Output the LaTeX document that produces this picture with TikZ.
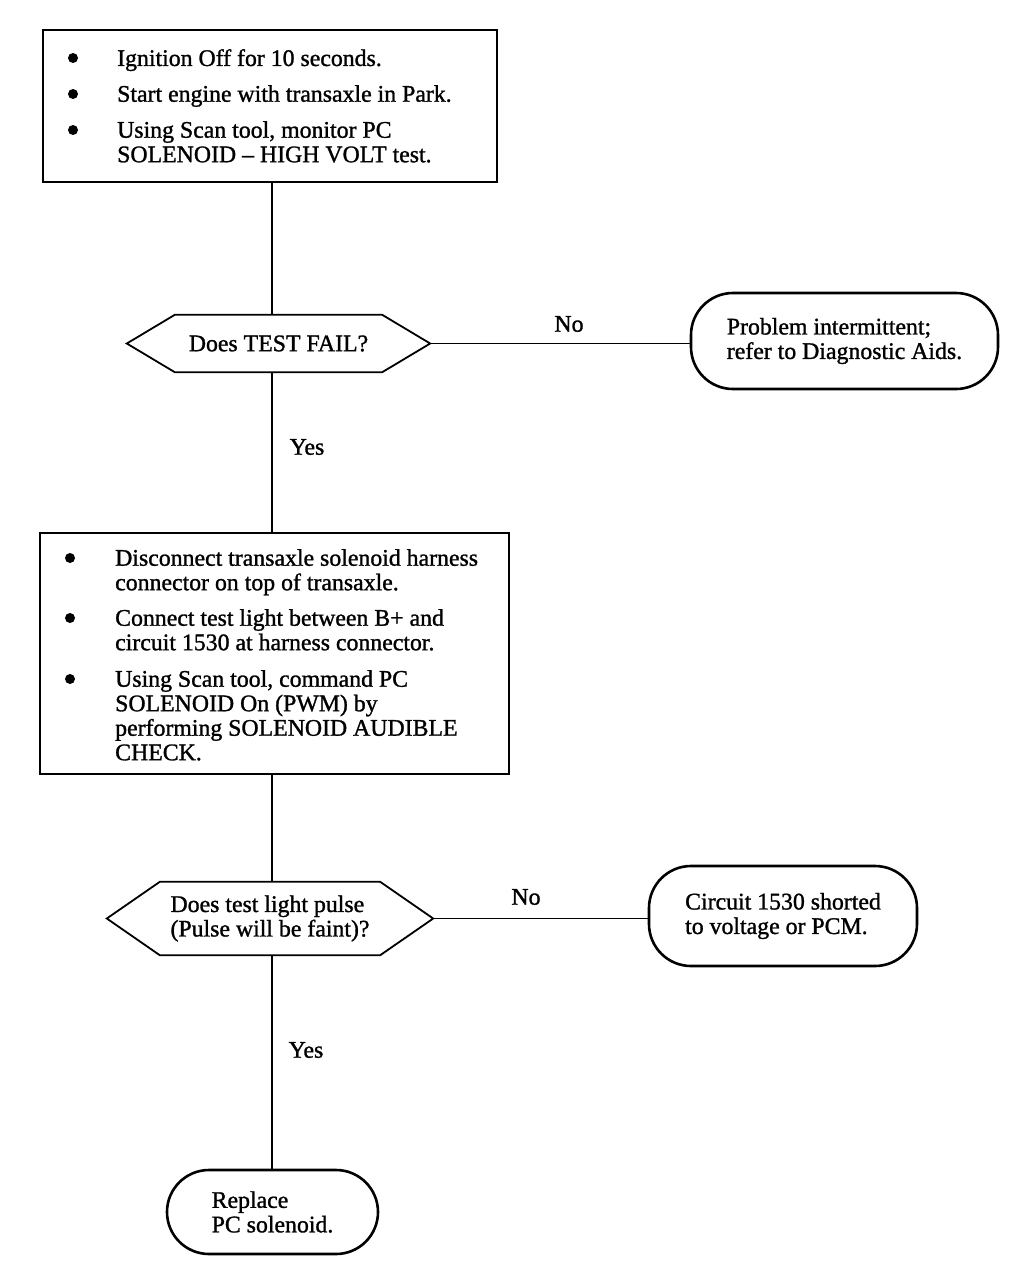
\documentclass[tikz,border=0pt]{standalone}
\usepackage{fontspec}
\setmainfont{Liberation Serif}[UprightFeatures={FakeBold=1.2}]
\begin{document}
\begin{tikzpicture}[x=1pt,y=-1pt,
  boxr/.style={draw, line width=2.6, inner sep=0},
  fnt/.style={font=\fontsize{23.8}{24.5}\selectfont},
  txt/.style={fnt, align=left, inner sep=0, anchor=north west},
  dot/.style={circle, fill, inner sep=0, minimum size=10},
  term/.style={draw, line width=2.6, rounded corners=42, inner sep=0, fnt, align=left},
  dec/.style={inner sep=0, fnt, align=left},
  hexa/.style={line width=1.8},
  conn/.style={line width=1.8},
  lbl/.style={fnt, inner sep=0}]
\useasboundingbox (0,0) rectangle (1024,1270);
\coordinate (sp) at (272,0);

% Box 1
\node[boxr, minimum width=454, minimum height=152] (b1) at (270,106) {};
\node[dot] (b1d1) at (73,58) {};
\node[dot] (b1d2) at (73,94) {};
\node[dot] (b1d3) at (73,130) {};
\node[txt] (b1t1) at (117,49) {Ignition Off for 10 seconds.};
\node[txt] (b1t2) at (117,85) {Start engine with transaxle in Park.};
\node[txt] (b1t3) at (117,121) {Using Scan tool, monitor PC\\SOLENOID -- HIGH VOLT test.};

% Decision 1
\node[dec, minimum width=303, minimum height=57] (d1) at (278.5,343.5) {Does TEST FAIL?};
\draw[hexa] (d1.west) -- ([xshift=48]d1.north west) -- ([xshift=-48]d1.north east)
  -- (d1.east) -- ([xshift=-48]d1.south east) -- ([xshift=48]d1.south west) -- cycle;

% Terminal 1
\node[term, minimum width=307, minimum height=96] (t1) at (844.5,341) {Problem intermittent;\\refer to Diagnostic Aids.};

% Box 2
\node[boxr, minimum width=469, minimum height=241] (b2) at (274.5,653.5) {};
\node[dot] (b2d1) at (70,558) {};
\node[dot] (b2d2) at (70,618) {};
\node[dot] (b2d3) at (70,679) {};
\node[txt] (b2t1) at (115,549) {Disconnect transaxle solenoid harness\\connector on top of transaxle.};
\node[txt] (b2t2) at (115,609) {Connect test light between B+ and\\circuit 1530 at harness connector.};
\node[txt] (b2t3) at (115,670) {Using Scan tool, command PC\\SOLENOID On (PWM) by\\performing SOLENOID AUDIBLE\\CHECK.};

% Decision 2
\node[dec, minimum width=326, minimum height=73] (d2) at (270,918.5) {Does test light pulse\\(Pulse will be faint)?};
\draw[hexa] (d2.west) -- ([xshift=53]d2.north west) -- ([xshift=-53]d2.north east)
  -- (d2.east) -- ([xshift=-53]d2.south east) -- ([xshift=53]d2.south west) -- cycle;

% Terminal 2
\node[term, minimum width=268, minimum height=100] (t2) at (783,916) {Circuit 1530 shorted\\to voltage or PCM.};

% Terminal 3
\node[term, minimum width=211, minimum height=84] (t3) at (272.5,1212) {Replace\\PC solenoid.};

% Connectors
\draw[conn] (b1.south -| sp) -- (d1.north -| sp);
\draw[conn] (d1.south -| sp) -- (b2.north -| sp);
\draw[conn] (b2.south -| sp) -- (d2.north -| sp);
\draw[conn] (d2.south -| sp) -- (t3.north -| sp);
\draw[conn] (d1.east) -- (d1.east -| t1.west);
\draw[conn] (d2.east) -- (d2.east -| t2.west);

% Labels
\node[lbl] (l1) at (569,324) {No};
\node[lbl] (l2) at (307,447) {Yes};
\node[lbl] (l3) at (526,897) {No};
\node[lbl] (l4) at (306,1050) {Yes};
\end{tikzpicture}
\end{document}
